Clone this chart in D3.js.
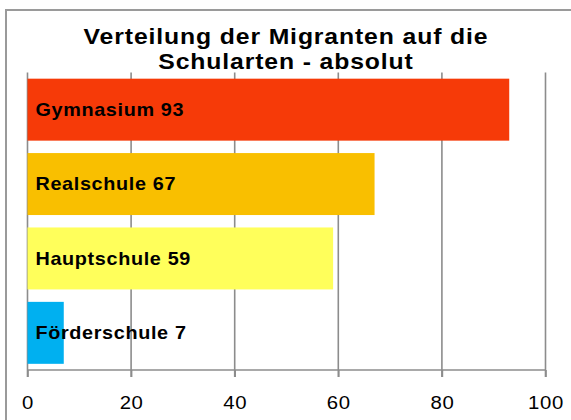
<!DOCTYPE html>
<html lang="de">
<head>
<meta charset="UTF-8">
<title>Verteilung der Migranten auf die Schularten - absolut</title>
<style>
  body { margin: 0; background: #fff; }
  svg { display: block; font-family: "Liberation Sans", Arial, sans-serif; }
</style>
</head>
<body>
<div id="chart"></div>
<script src="https://d3js.org/d3.v7.min.js"></script>
<script>
// data
const schularten = ["Gymnasium", "Realschule", "Hauptschule", "Förderschule"];
const anzahl = [93, 67, 59, 7];
const farben = ["#f63a08", "#f9bf00", "#ffff5b", "#00b0f0"];
const xTicks = [0, 20, 40, 60, 80, 100];
const titel = ["Verteilung der Migranten auf die", "Schularten - absolut"];

const width = 571, height = 420;
const plot = { left: 27.5, right: 545.5, top: 72.5, bottom: 370 };
const stretch = "scale(1.1,1)"; // the original text is drawn a bit wide

const svg = d3.select("#chart").append("svg")
    .attr("width", width)
    .attr("height", height);

// chart frame (cut off at right and bottom in the original)
svg.append("rect")
    .attr("x", 6).attr("y", 10)
    .attr("width", 620).attr("height", 460)
    .attr("fill", "none")
    .attr("stroke", "#9a9a9a")
    .attr("stroke-width", 2);

const x = d3.scaleLinear().domain([0, 100]).range([plot.left, plot.right]);
const y = d3.scaleBand()
    .domain(schularten)
    .range([plot.top, plot.bottom])
    .paddingInner(0.167)
    .paddingOuter(0.083);

// vertical gridlines, running down past the axis as tick marks
svg.append("g").selectAll("line")
    .data(xTicks)
    .enter().append("line")
    .attr("x1", d => x(d)).attr("x2", d => x(d))
    .attr("y1", plot.top).attr("y2", plot.bottom + 7)
    .attr("stroke", "#8c8c8c")
    .attr("stroke-width", 1.6);

// bars
const rows = schularten.map((s, i) => ({ name: s, value: anzahl[i], color: farben[i] }));

svg.append("g").selectAll("rect")
    .data(rows)
    .enter().append("rect")
    .attr("x", x(0))
    .attr("y", d => y(d.name))
    .attr("width", d => x(d.value) - x(0))
    .attr("height", y.bandwidth())
    .attr("fill", d => d.color);

// x axis
const xAxis = d3.axisBottom(x)
    .tickValues(xTicks)
    .tickSize(7)
    .tickPadding(19);

const axisG = svg.append("g")
    .attr("transform", `translate(0,${plot.bottom})`)
    .call(xAxis);

axisG.select(".domain")
    .attr("stroke", "#8c8c8c")
    .attr("stroke-width", 1.6)
    .attr("d", `M${x(0)},0H${x(100)}`);
axisG.selectAll(".tick line")
    .attr("stroke", "#8c8c8c")
    .attr("stroke-width", 1.6);
axisG.selectAll(".tick text")
    .attr("fill", "#000")
    .attr("transform", stretch)
    .style("font-size", "18.5px")
    .style("letter-spacing", "0.6px")
    .style("font-family", "'Liberation Sans', Arial, sans-serif");

// data labels inside the bars
svg.append("g").selectAll("text")
    .data(rows)
    .enter().append("text")
    .attr("transform", d => `translate(${x(0) + 8},${y(d.name) + y.bandwidth() / 2}) ${stretch}`)
    .attr("dy", "0.35em")
    .attr("fill", "#000")
    .style("font-size", "18px")
    .style("font-weight", "bold")
    .style("letter-spacing", "0.6px")
    .text(d => `${d.name} ${d.value}`);

// title, two lines
svg.append("g").selectAll("text")
    .data(titel)
    .enter().append("text")
    .attr("transform", (d, i) => `translate(286,${43.5 + i * 25.5}) scale(1.1,1)`)
    .attr("text-anchor", "middle")
    .attr("fill", "#000")
    .style("font-size", "22.5px")
    .style("font-weight", "bold")
    .style("letter-spacing", "0.8px")
    .text(d => d);
</script>
</body>
</html>
